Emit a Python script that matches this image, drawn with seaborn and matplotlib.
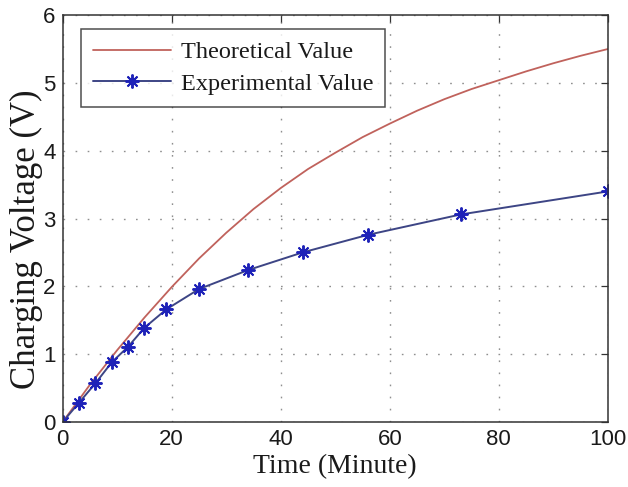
import matplotlib
matplotlib.use("Agg")
import matplotlib.pyplot as plt
import seaborn as sns
import pandas as pd

# Theoretical charging curve (time in minutes, voltage in volts)
theory_time = [0, 5, 10, 15, 20, 25, 30, 35, 40, 45, 50,
               55, 60, 65, 70, 75, 80, 85, 90, 95, 100]
theory_volt = [0.0, 0.55, 1.06, 1.54, 1.99, 2.41, 2.79, 3.14, 3.45, 3.73, 3.97,
               4.20, 4.40, 4.59, 4.76, 4.91, 5.04, 5.17, 5.29, 5.40, 5.50]

# Measured charging voltage
exp_time = [0, 3, 6, 9, 12, 15, 19, 25, 34, 44, 56, 73, 100]
exp_volt = [0.0, 0.285, 0.57, 0.88, 1.11, 1.39, 1.66, 1.96, 2.24, 2.50, 2.76, 3.06, 3.40]

x_ticks = [0, 20, 40, 60, 80, 100]
y_ticks = [0, 1, 2, 3, 4, 5, 6]

sns.set_theme(style="white")
plt.rcParams["font.family"] = ["Liberation Sans", "DejaVu Sans"]

theory = pd.DataFrame({"t": theory_time, "v": theory_volt})
measured = pd.DataFrame({"t": exp_time, "v": exp_volt})

fig = plt.figure(figsize=(6.28, 4.87), dpi=100)
ax = fig.add_axes([0.0998, 0.1335, 0.8682, 0.8355])

sns.lineplot(data=theory, x="t", y="v", ax=ax, color="#c0625c", lw=1.3,
             label="Theoretical Value")
sns.lineplot(data=measured, x="t", y="v", ax=ax, color="#3d4585",
             lw=1.4, marker=(8, 2, 0), markersize=10,
             markeredgecolor="#1e22b8", markeredgewidth=1.4,
             label="Experimental Value")
for ln in ax.lines:
    ln.set_solid_joinstyle("round")

ax.set_xlim(0, 100)
ax.set_ylim(0, 6)
ax.set_xticks(x_ticks)
ax.set_yticks(y_ticks)
ax.tick_params(axis="both", which="both", direction="in", length=5,
               width=0.9, color="#333333", labelsize=16, labelcolor="#1a1a1a",
               top=True, right=True, pad=5)
ax.grid(True, linestyle=(0, (1.2, 7.5)), color="#8f8f8f", lw=1.0)
for s in ax.spines.values():
    s.set_visible(True)
    s.set_color("#333333")
    s.set_linewidth(1.1)

serif = ["Liberation Serif", "DejaVu Serif"]
ax.set_xlabel("Time (Minute)", family=serif, fontsize=20, color="#1a1a1a",
              labelpad=3)
ax.set_ylabel("Charging Voltage (V)", family=serif, fontsize=25,
              color="#1a1a1a")
ax.yaxis.set_label_coords(-0.036, 0.45)

leg = ax.legend(loc="upper left", bbox_to_anchor=(0.0336, 0.9656),
                prop={"family": serif, "size": 17.5},
                frameon=True, fancybox=False, shadow=False,
                handlelength=3.2, borderaxespad=0.0, borderpad=0.5,
                labelspacing=0.38, handletextpad=0.4)
leg.get_frame().set_edgecolor("#222222")
leg.get_frame().set_linewidth(1.1)
for t in leg.get_texts():
    t.set_color("#1a1a1a")

fig.savefig("out.png", dpi=100)
